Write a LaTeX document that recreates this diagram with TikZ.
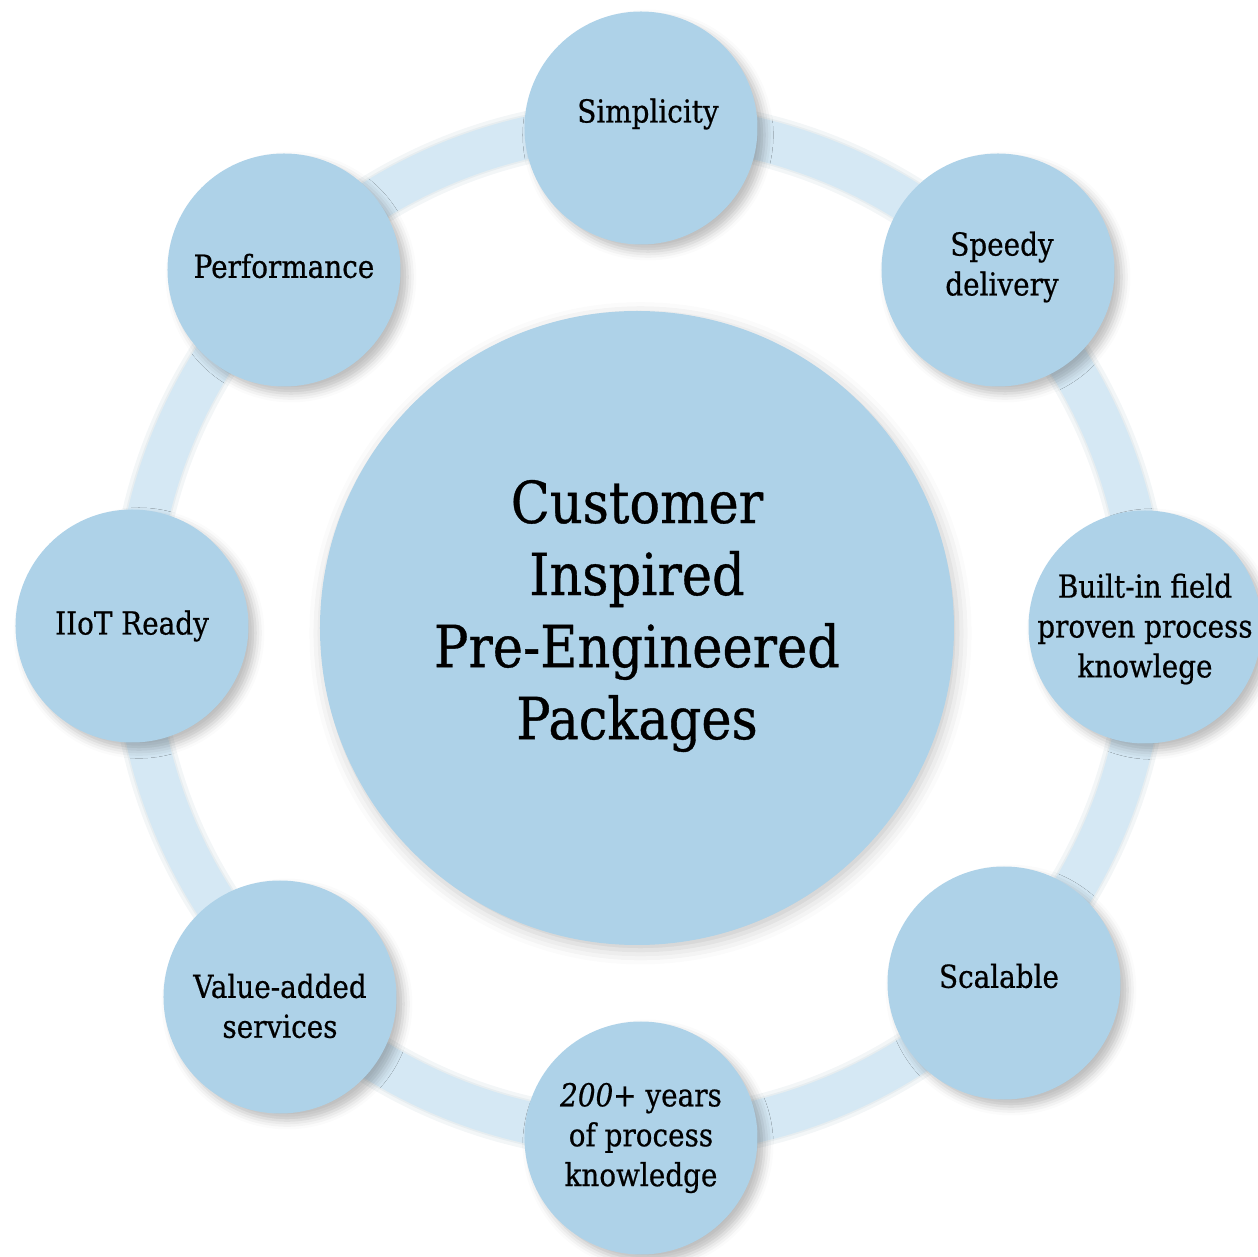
\documentclass[tikz,border=0pt]{standalone}
\usepackage{fontspec}
\setmainfont{DejaVu Serif}[FakeStretch=0.88,FakeBold=0.6]
\usepackage{tikz}
\usetikzlibrary{shadows.blur}
\definecolor{bubbleblue}{HTML}{AED2E8}
\definecolor{ringblue}{HTML}{D5E8F4}
\definecolor{shadeteal}{HTML}{4F7F92}
\tikzset{
  hub/.style={circle,fill=bubbleblue,minimum size=12.68cm,inner sep=0pt,
    blur shadow={shadow xshift=2pt,shadow yshift=-3pt,shadow blur radius=8pt,shadow opacity=22}},
  bubble/.style={circle,fill=bubbleblue,minimum size=4.66cm,inner sep=0pt,
    blur shadow={shadow xshift=4pt,shadow yshift=-4pt,shadow blur radius=5pt,shadow opacity=26}},
  hubtext/.style={align=center,font=\fontsize{33}{41}\selectfont},
  bubbletext/.style={align=center,font=\fontsize{18}{22.7}\selectfont},
  ringband/.style={draw=ringblue,line width=.84cm},
  ringshadow/.style={draw=shadeteal,line width=.84cm,opacity=.07,xshift=2pt,yshift=-4pt},
}

\begin{document}
\begin{tikzpicture}
    \useasboundingbox (-12.74,-12.58) rectangle (12.42,12.56);
    % ring behind the bubbles
    \coordinate (mid) at (0,0);
    \coordinate (ringmid) at (.06,-.04);
    \draw[ringshadow,line width=.84cm+6pt] (ringmid) circle (10.1cm);
    \draw[ringshadow,line width=.84cm+2pt] (ringmid) circle (10.1cm);
    \draw[ringband] (ringmid) circle (10.1cm);
    % center
    \node[hub] (core) at (mid) {};
    \node[hubtext,yshift=.24cm] (core-t) at (core) {Customer\\Inspired\\Pre-Engineered\\Packages};
    % satellites
    \node[bubble] (simp) at (.08,10) {};
    \node[bubble] (speed) at (7.22,7.16) {};
    \node[bubble] (field) at (10.16,.02) {};
    \node[bubble] (scale) at (7.34,-7.1) {};
    \node[bubble] (years) at (.08,-10.2) {};
    \node[bubble] (value) at (-7.14,-7.38) {};
    \node[bubble] (iiot) at (-10.1,.04) {};
    \node[bubble] (perf) at (-7.06,7.16) {};
    \node[bubbletext,xshift=.14cm,yshift=.28cm] (simp-t) at (simp) {Simplicity};
    \node[bubbletext,xshift=.08cm,yshift=.06cm] (speed-t) at (speed) {Speedy\\delivery};
    \node[bubbletext,yshift=-.04cm] (field-t) at (field) {Built-in field\\proven process\\knowlege};
    \node[bubbletext,xshift=-.1cm,yshift=.14cm] (scale-t) at (scale) {Scalable};
    \node[bubbletext] (years-t) at (years) {\textit{200+} years\\of process\\knowledge};
    \node[bubbletext,yshift=-.18cm] (value-t) at (value) {Value-added\\services};
    \node[bubbletext] (iiot-t) at (iiot) {IIoT Ready};
    \node[bubbletext,yshift=.08cm] (perf-t) at (perf) {Performance};
\end{tikzpicture}
\end{document}
